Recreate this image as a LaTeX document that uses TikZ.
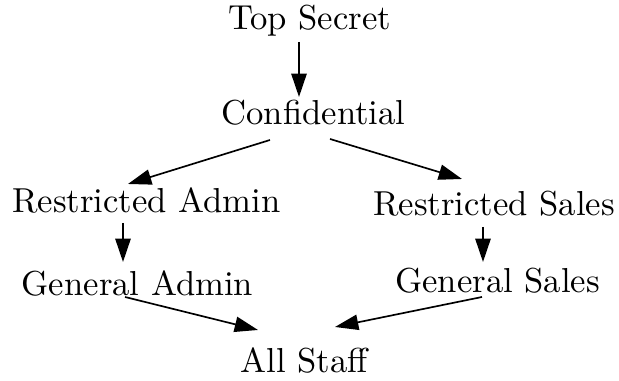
\documentclass[tikz,border=0pt]{standalone}
\usetikzlibrary{calc,arrows.meta}
\begin{document}
\begin{tikzpicture}[x=0.3pt,y=-0.3pt,
  lbl/.style={inner sep=0pt,anchor=base,font=\fontsize{10.4}{12}\selectfont},
  edge/.style={line width=0.5pt,-{Triangle[length=7pt,width=4.6pt]}}]
\useasboundingbox (0,0) rectangle (619,381);
\node[lbl] (ts) at (309.5,29.5) {Top Secret};
\node[lbl] (conf) at (313.5,125) {Confidential};
\node[lbl] (ra) at (146.5,213) {Restricted Admin};
\node[lbl] (rs) at (494,216) {Restricted Sales};
\node[lbl] (ga) at (137.5,296) {General Admin};
\node[lbl] (gs) at (497.5,293) {General Sales};
\node[lbl] (as) at (304,373) {All Staff};
\draw[edge] ($(ts.base)+(-10.5,12.5)$) -- ($(conf.base)+(-14.5,-28)$);
\draw[edge] ($(conf.base)+(-43.5,15)$) -- ($(ra.base)+(-18.5,-29)$);
\draw[edge] ($(conf.base)+(16.5,14)$) -- ($(rs.base)+(-32,-37)$);
\draw[edge] ($(ra.base)+(-23.5,10)$) -- ($(ga.base)+(-14.5,-34)$);
\draw[edge] ($(rs.base)+(-11,11)$) -- ($(gs.base)+(-14.5,-31)$);
\draw[edge] ($(ga.base)+(-12.5,1)$) -- ($(as.base)+(-46,-43)$);
\draw[edge] ($(gs.base)+(-15.5,4)$) -- ($(as.base)+(31,-46)$);
\end{tikzpicture}
\end{document}
